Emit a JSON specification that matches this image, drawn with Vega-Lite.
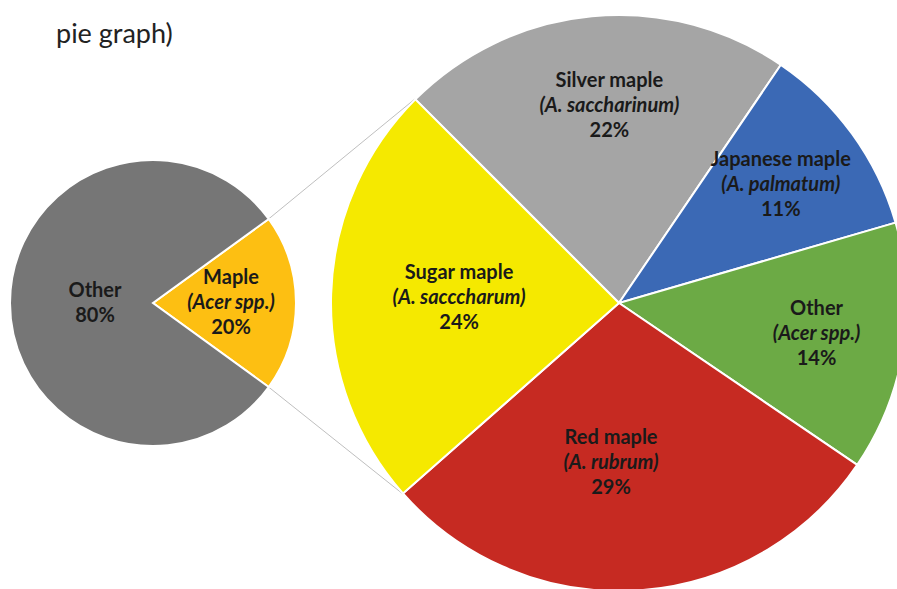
{
  "$schema": "https://vega.github.io/schema/vega-lite/v6.json",
  "width": 897,
  "height": 589,
  "padding": 0,
  "autosize": "none",
  "background": "white",
  "config": {"view": {"stroke": null}},
  "title": {"text": "pie graph)", "anchor": "start", "frame": "group", "orient": "top", "offset": -70, "dx": 56, "font": "Lato", "fontSize": 27, "fontWeight": "normal", "color": "#222222", "baseline": "alphabetic"},
  "datasets": {
    "primary": [
      {"category": "Maple", "species": "(Acer spp.)", "share": 0.2, "rank": 1},
      {"category": "Other", "species": "", "share": 0.8, "rank": 2}
    ],
    "maple": [
      {"name": "Silver maple", "species": "(A. saccharinum)", "share": 0.22, "rank": 1},
      {"name": "Japanese maple", "species": "(A. palmatum)", "share": 0.11, "rank": 2},
      {"name": "Other", "species": "(Acer spp.)", "share": 0.14, "rank": 3},
      {"name": "Red maple", "species": "(A. rubrum)", "share": 0.29, "rank": 4},
      {"name": "Sugar maple", "species": "(A. sacccharum)", "share": 0.24, "rank": 5}
    ],
    "connectors": [
      {"x": 268.7, "y": 218.9, "x2": 414.4, "y2": 99.4},
      {"x": 268.7, "y": 387.1, "x2": 402.4, "y2": 493.6}
    ]
  },
  "layer": [
    {
      "data": {"name": "connectors"},
      "mark": {"type": "rule", "color": "#BFBFBF", "strokeWidth": 1},
      "encoding": {
        "x": {"field": "x", "type": "quantitative", "scale": {"domain": [0, 897], "nice": false}, "axis": null},
        "y": {"field": "y", "type": "quantitative", "scale": {"domain": [0, 589], "nice": false, "reverse": true}, "axis": null},
        "x2": {"field": "x2"},
        "y2": {"field": "y2"}
      }
    },
    {
      "data": {"name": "primary"},
      "mark": {"type": "arc", "outerRadius": 143, "stroke": "white", "strokeWidth": 2},
      "encoding": {
        "x": {"datum": 153, "type": "quantitative", "scale": {"domain": [0, 897], "nice": false}, "axis": null},
        "y": {"datum": 303, "type": "quantitative", "scale": {"domain": [0, 589], "nice": false, "reverse": true}, "axis": null},
        "theta": {"field": "share", "type": "quantitative", "stack": true, "scale": {"range": [0.9424778, 7.2256631]}},
        "order": {"field": "rank"},
        "color": {"field": "category", "type": "nominal", "scale": {"domain": ["Maple", "Other"], "range": ["#FDBF12", "#767676"]}, "legend": null}
      }
    },
    {
      "data": {"name": "maple"},
      "mark": {"type": "arc", "outerRadius": 288, "stroke": "white", "strokeWidth": 2},
      "encoding": {
        "x": {"datum": 619, "type": "quantitative", "scale": {"domain": [0, 897], "nice": false}, "axis": null},
        "y": {"datum": 303, "type": "quantitative", "scale": {"domain": [0, 589], "nice": false, "reverse": true}, "axis": null},
        "theta": {"field": "share", "type": "quantitative", "stack": true, "scale": {"range": [-0.7853982, 5.4977871]}},
        "order": {"field": "rank"},
        "color": {"field": "name", "type": "nominal", "scale": {"domain": ["Silver maple", "Japanese maple", "Other", "Red maple", "Sugar maple"], "range": ["#A5A5A5", "#3B69B5", "#6CAA45", "#C62A22", "#F5E900"]}, "legend": null}
      }
    },
    {
      "data": {"name": "primary"},
      "mark": {"type": "text", "radius": 58, "dy": -12, "font": "Lato", "fontSize": 20, "fontWeight": "bold", "color": "#1a1a1a", "baseline": "middle"},
      "encoding": {
        "x": {"datum": 153, "type": "quantitative", "scale": {"domain": [0, 897], "nice": false}, "axis": null},
        "y": {"datum": 303, "type": "quantitative", "scale": {"domain": [0, 589], "nice": false, "reverse": true}, "axis": null},
        "theta": {"field": "share", "type": "quantitative", "stack": true, "scale": {"range": [0.9424778, 7.2256631]}},
        "order": {"field": "rank"},
        "detail": {"field": "category"},
        "text": {"field": "category"},
        "opacity": {"condition": {"test": "datum.category === 'Maple'", "value": 0}, "value": 1}
      }
    },
    {
      "data": {"name": "primary"},
      "mark": {"type": "text", "radius": 58, "dy": 13, "font": "Lato", "fontSize": 20, "fontWeight": "bold", "color": "#1a1a1a", "baseline": "middle"},
      "encoding": {
        "x": {"datum": 153, "type": "quantitative", "scale": {"domain": [0, 897], "nice": false}, "axis": null},
        "y": {"datum": 303, "type": "quantitative", "scale": {"domain": [0, 589], "nice": false, "reverse": true}, "axis": null},
        "theta": {"field": "share", "type": "quantitative", "stack": true, "scale": {"range": [0.9424778, 7.2256631]}},
        "order": {"field": "rank"},
        "detail": {"field": "category"},
        "text": {"field": "share", "type": "quantitative", "format": ".0%"},
        "opacity": {"condition": {"test": "datum.category === 'Maple'", "value": 0}, "value": 1}
      }
    },
    {
      "data": {"name": "primary"},
      "mark": {"type": "text", "radius": 78, "dy": -25, "font": "Lato", "fontSize": 20, "fontWeight": "bold", "color": "#1a1a1a", "baseline": "middle"},
      "encoding": {
        "x": {"datum": 153, "type": "quantitative", "scale": {"domain": [0, 897], "nice": false}, "axis": null},
        "y": {"datum": 303, "type": "quantitative", "scale": {"domain": [0, 589], "nice": false, "reverse": true}, "axis": null},
        "theta": {"field": "share", "type": "quantitative", "stack": true, "scale": {"range": [0.9424778, 7.2256631]}},
        "order": {"field": "rank"},
        "detail": {"field": "category"},
        "text": {"field": "category"},
        "opacity": {"condition": {"test": "datum.category === 'Other'", "value": 0}, "value": 1}
      }
    },
    {
      "data": {"name": "primary"},
      "mark": {"type": "text", "radius": 78, "dy": 0, "font": "Lato", "fontSize": 20, "fontWeight": "bold", "fontStyle": "italic", "color": "#1a1a1a", "baseline": "middle"},
      "encoding": {
        "x": {"datum": 153, "type": "quantitative", "scale": {"domain": [0, 897], "nice": false}, "axis": null},
        "y": {"datum": 303, "type": "quantitative", "scale": {"domain": [0, 589], "nice": false, "reverse": true}, "axis": null},
        "theta": {"field": "share", "type": "quantitative", "stack": true, "scale": {"range": [0.9424778, 7.2256631]}},
        "order": {"field": "rank"},
        "detail": {"field": "category"},
        "text": {"field": "species"},
        "opacity": {"condition": {"test": "datum.category === 'Other'", "value": 0}, "value": 1}
      }
    },
    {
      "data": {"name": "primary"},
      "mark": {"type": "text", "radius": 78, "dy": 25, "font": "Lato", "fontSize": 20, "fontWeight": "bold", "color": "#1a1a1a", "baseline": "middle"},
      "encoding": {
        "x": {"datum": 153, "type": "quantitative", "scale": {"domain": [0, 897], "nice": false}, "axis": null},
        "y": {"datum": 303, "type": "quantitative", "scale": {"domain": [0, 589], "nice": false, "reverse": true}, "axis": null},
        "theta": {"field": "share", "type": "quantitative", "stack": true, "scale": {"range": [0.9424778, 7.2256631]}},
        "order": {"field": "rank"},
        "detail": {"field": "category"},
        "text": {"field": "share", "type": "quantitative", "format": ".0%"},
        "opacity": {"condition": {"test": "datum.category === 'Other'", "value": 0}, "value": 1}
      }
    },
    {
      "data": {"name": "maple"},
      "mark": {"type": "text", "radius": 200, "dy": -25, "font": "Lato", "fontSize": 20, "fontWeight": "bold", "color": "#1a1a1a", "baseline": "middle"},
      "encoding": {
        "x": {"datum": 619, "type": "quantitative", "scale": {"domain": [0, 897], "nice": false}, "axis": null},
        "y": {"datum": 303, "type": "quantitative", "scale": {"domain": [0, 589], "nice": false, "reverse": true}, "axis": null},
        "theta": {"field": "share", "type": "quantitative", "stack": true, "scale": {"range": [-0.7853982, 5.4977871]}},
        "order": {"field": "rank"},
        "detail": {"field": "name"},
        "text": {"field": "name"},
        "opacity": {"condition": {"test": "datum.name === 'Japanese maple' || datum.name === 'Other'", "value": 1}, "value": 0}
      }
    },
    {
      "data": {"name": "maple"},
      "mark": {"type": "text", "radius": 200, "dy": 0, "font": "Lato", "fontSize": 20, "fontWeight": "bold", "fontStyle": "italic", "color": "#1a1a1a", "baseline": "middle"},
      "encoding": {
        "x": {"datum": 619, "type": "quantitative", "scale": {"domain": [0, 897], "nice": false}, "axis": null},
        "y": {"datum": 303, "type": "quantitative", "scale": {"domain": [0, 589], "nice": false, "reverse": true}, "axis": null},
        "theta": {"field": "share", "type": "quantitative", "stack": true, "scale": {"range": [-0.7853982, 5.4977871]}},
        "order": {"field": "rank"},
        "detail": {"field": "name"},
        "text": {"field": "species"},
        "opacity": {"condition": {"test": "datum.name === 'Japanese maple' || datum.name === 'Other'", "value": 1}, "value": 0}
      }
    },
    {
      "data": {"name": "maple"},
      "mark": {"type": "text", "radius": 200, "dy": 25, "font": "Lato", "fontSize": 20, "fontWeight": "bold", "color": "#1a1a1a", "baseline": "middle"},
      "encoding": {
        "x": {"datum": 619, "type": "quantitative", "scale": {"domain": [0, 897], "nice": false}, "axis": null},
        "y": {"datum": 303, "type": "quantitative", "scale": {"domain": [0, 589], "nice": false, "reverse": true}, "axis": null},
        "theta": {"field": "share", "type": "quantitative", "stack": true, "scale": {"range": [-0.7853982, 5.4977871]}},
        "order": {"field": "rank"},
        "detail": {"field": "name"},
        "text": {"field": "share", "type": "quantitative", "format": ".0%"},
        "opacity": {"condition": {"test": "datum.name === 'Japanese maple' || datum.name === 'Other'", "value": 1}, "value": 0}
      }
    },
    {
      "data": {"name": "maple"},
      "mark": {"type": "text", "radius": 198, "dx": 9, "dy": -25, "font": "Lato", "fontSize": 20, "fontWeight": "bold", "color": "#1a1a1a", "baseline": "middle"},
      "encoding": {
        "x": {"datum": 619, "type": "quantitative", "scale": {"domain": [0, 897], "nice": false}, "axis": null},
        "y": {"datum": 303, "type": "quantitative", "scale": {"domain": [0, 589], "nice": false, "reverse": true}, "axis": null},
        "theta": {"field": "share", "type": "quantitative", "stack": true, "scale": {"range": [-0.7853982, 5.4977871]}},
        "order": {"field": "rank"},
        "detail": {"field": "name"},
        "text": {"field": "name"},
        "opacity": {"condition": {"test": "datum.name === 'Silver maple'", "value": 1}, "value": 0}
      }
    },
    {
      "data": {"name": "maple"},
      "mark": {"type": "text", "radius": 198, "dx": 9, "dy": 0, "font": "Lato", "fontSize": 20, "fontWeight": "bold", "fontStyle": "italic", "color": "#1a1a1a", "baseline": "middle"},
      "encoding": {
        "x": {"datum": 619, "type": "quantitative", "scale": {"domain": [0, 897], "nice": false}, "axis": null},
        "y": {"datum": 303, "type": "quantitative", "scale": {"domain": [0, 589], "nice": false, "reverse": true}, "axis": null},
        "theta": {"field": "share", "type": "quantitative", "stack": true, "scale": {"range": [-0.7853982, 5.4977871]}},
        "order": {"field": "rank"},
        "detail": {"field": "name"},
        "text": {"field": "species"},
        "opacity": {"condition": {"test": "datum.name === 'Silver maple'", "value": 1}, "value": 0}
      }
    },
    {
      "data": {"name": "maple"},
      "mark": {"type": "text", "radius": 198, "dx": 9, "dy": 25, "font": "Lato", "fontSize": 20, "fontWeight": "bold", "color": "#1a1a1a", "baseline": "middle"},
      "encoding": {
        "x": {"datum": 619, "type": "quantitative", "scale": {"domain": [0, 897], "nice": false}, "axis": null},
        "y": {"datum": 303, "type": "quantitative", "scale": {"domain": [0, 589], "nice": false, "reverse": true}, "axis": null},
        "theta": {"field": "share", "type": "quantitative", "stack": true, "scale": {"range": [-0.7853982, 5.4977871]}},
        "order": {"field": "rank"},
        "detail": {"field": "name"},
        "text": {"field": "share", "type": "quantitative", "format": ".0%"},
        "opacity": {"condition": {"test": "datum.name === 'Silver maple'", "value": 1}, "value": 0}
      }
    },
    {
      "data": {"name": "maple"},
      "mark": {"type": "text", "radius": 160, "dx": -18, "dy": -25, "font": "Lato", "fontSize": 20, "fontWeight": "bold", "color": "#1a1a1a", "baseline": "middle"},
      "encoding": {
        "x": {"datum": 619, "type": "quantitative", "scale": {"domain": [0, 897], "nice": false}, "axis": null},
        "y": {"datum": 303, "type": "quantitative", "scale": {"domain": [0, 589], "nice": false, "reverse": true}, "axis": null},
        "theta": {"field": "share", "type": "quantitative", "stack": true, "scale": {"range": [-0.7853982, 5.4977871]}},
        "order": {"field": "rank"},
        "detail": {"field": "name"},
        "text": {"field": "name"},
        "opacity": {"condition": {"test": "datum.name === 'Red maple'", "value": 1}, "value": 0}
      }
    },
    {
      "data": {"name": "maple"},
      "mark": {"type": "text", "radius": 160, "dx": -18, "dy": 0, "font": "Lato", "fontSize": 20, "fontWeight": "bold", "fontStyle": "italic", "color": "#1a1a1a", "baseline": "middle"},
      "encoding": {
        "x": {"datum": 619, "type": "quantitative", "scale": {"domain": [0, 897], "nice": false}, "axis": null},
        "y": {"datum": 303, "type": "quantitative", "scale": {"domain": [0, 589], "nice": false, "reverse": true}, "axis": null},
        "theta": {"field": "share", "type": "quantitative", "stack": true, "scale": {"range": [-0.7853982, 5.4977871]}},
        "order": {"field": "rank"},
        "detail": {"field": "name"},
        "text": {"field": "species"},
        "opacity": {"condition": {"test": "datum.name === 'Red maple'", "value": 1}, "value": 0}
      }
    },
    {
      "data": {"name": "maple"},
      "mark": {"type": "text", "radius": 160, "dx": -18, "dy": 25, "font": "Lato", "fontSize": 20, "fontWeight": "bold", "color": "#1a1a1a", "baseline": "middle"},
      "encoding": {
        "x": {"datum": 619, "type": "quantitative", "scale": {"domain": [0, 897], "nice": false}, "axis": null},
        "y": {"datum": 303, "type": "quantitative", "scale": {"domain": [0, 589], "nice": false, "reverse": true}, "axis": null},
        "theta": {"field": "share", "type": "quantitative", "stack": true, "scale": {"range": [-0.7853982, 5.4977871]}},
        "order": {"field": "rank"},
        "detail": {"field": "name"},
        "text": {"field": "share", "type": "quantitative", "format": ".0%"},
        "opacity": {"condition": {"test": "datum.name === 'Red maple'", "value": 1}, "value": 0}
      }
    },
    {
      "data": {"name": "maple"},
      "mark": {"type": "text", "radius": 160, "dy": -25, "font": "Lato", "fontSize": 20, "fontWeight": "bold", "color": "#1a1a1a", "baseline": "middle"},
      "encoding": {
        "x": {"datum": 619, "type": "quantitative", "scale": {"domain": [0, 897], "nice": false}, "axis": null},
        "y": {"datum": 303, "type": "quantitative", "scale": {"domain": [0, 589], "nice": false, "reverse": true}, "axis": null},
        "theta": {"field": "share", "type": "quantitative", "stack": true, "scale": {"range": [-0.7853982, 5.4977871]}},
        "order": {"field": "rank"},
        "detail": {"field": "name"},
        "text": {"field": "name"},
        "opacity": {"condition": {"test": "datum.name === 'Sugar maple'", "value": 1}, "value": 0}
      }
    },
    {
      "data": {"name": "maple"},
      "mark": {"type": "text", "radius": 160, "dy": 0, "font": "Lato", "fontSize": 20, "fontWeight": "bold", "fontStyle": "italic", "color": "#1a1a1a", "baseline": "middle"},
      "encoding": {
        "x": {"datum": 619, "type": "quantitative", "scale": {"domain": [0, 897], "nice": false}, "axis": null},
        "y": {"datum": 303, "type": "quantitative", "scale": {"domain": [0, 589], "nice": false, "reverse": true}, "axis": null},
        "theta": {"field": "share", "type": "quantitative", "stack": true, "scale": {"range": [-0.7853982, 5.4977871]}},
        "order": {"field": "rank"},
        "detail": {"field": "name"},
        "text": {"field": "species"},
        "opacity": {"condition": {"test": "datum.name === 'Sugar maple'", "value": 1}, "value": 0}
      }
    },
    {
      "data": {"name": "maple"},
      "mark": {"type": "text", "radius": 160, "dy": 25, "font": "Lato", "fontSize": 20, "fontWeight": "bold", "color": "#1a1a1a", "baseline": "middle"},
      "encoding": {
        "x": {"datum": 619, "type": "quantitative", "scale": {"domain": [0, 897], "nice": false}, "axis": null},
        "y": {"datum": 303, "type": "quantitative", "scale": {"domain": [0, 589], "nice": false, "reverse": true}, "axis": null},
        "theta": {"field": "share", "type": "quantitative", "stack": true, "scale": {"range": [-0.7853982, 5.4977871]}},
        "order": {"field": "rank"},
        "detail": {"field": "name"},
        "text": {"field": "share", "type": "quantitative", "format": ".0%"},
        "opacity": {"condition": {"test": "datum.name === 'Sugar maple'", "value": 1}, "value": 0}
      }
    }
  ],
  "resolve": {"scale": {"theta": "independent", "color": "independent"}}
}
